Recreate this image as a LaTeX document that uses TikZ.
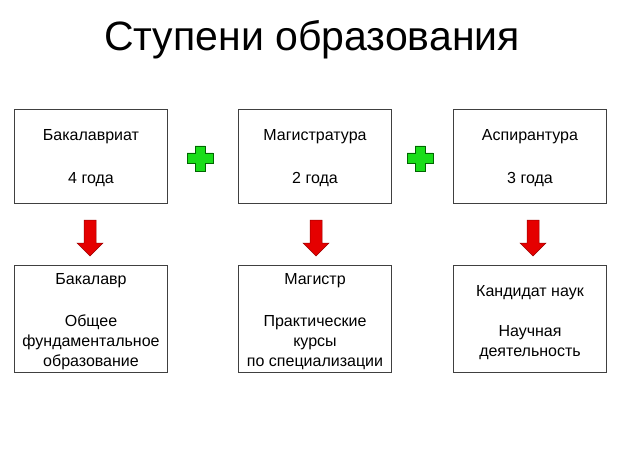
\documentclass[tikz,border=0pt]{standalone}
\usepackage{fontspec}
\setmainfont{Liberation Sans}
\begin{document}
\begin{tikzpicture}[x=1pt,y=-1pt,
  box/.style={draw=black!75,line width=0.8pt,fill=white,minimum width=153pt,anchor=north west,inner sep=0pt},
  txt/.style={anchor=base,font=\fontsize{16}{20}\selectfont,inner sep=0pt},
  plus/.style={fill=green!85!black!90,draw=green!40!black,line width=0.6pt},
  darr/.style={fill=red!90!black,draw=red!60!black,line width=0.5pt}]
\useasboundingbox (0,0) rectangle (634,449);
\node (title) at (312,40) {\fontsize{41}{46}\selectfont Ступени образования};
\node[box,minimum height=94pt] (t1) at (14,109) {};
\node[box,minimum height=94pt] (t2) at (238,109) {};
\node[box,minimum height=94pt] (t3) at (453,109) {};
\node[box,minimum height=107pt] (b1) at (14,265) {};
\node[box,minimum height=107pt] (b2) at (238,265) {};
\node[box,minimum height=107pt] (b3) at (453,265) {};
\node[txt] (t1a) at (91,141) {Бакалавриат};
\node[txt] (t1b) at (91,183) {4 года};
\node[txt] (t2a) at (315,141) {Магистратура};
\node[txt] (t2b) at (315,183) {2 года};
\node[txt] (t3a) at (530,141) {Аспирантура};
\node[txt] (t3b) at (530,183) {3 года};
\node[txt] (b1a) at (91,284) {Бакалавр};
\node[txt] (b1b) at (91,326) {Общее};
\node[txt] (b1c) at (91,346) {фундаментальное};
\node[txt] (b1d) at (91,366) {образование};
\node[txt] (b2a) at (315,284) {Магистр};
\node[txt] (b2b) at (315,326) {Практические};
\node[txt] (b2c) at (315,346) {курсы};
\node[txt] (b2d) at (315,366) {по специализации};
\node[txt] (b3a) at (530,296) {Кандидат наук};
\node[txt] (b3b) at (530,336) {Научная};
\node[txt] (b3c) at (530,356) {деятельность};
\foreach \c in {200,420}{
  \draw[plus] (\c-5,146) -- (\c+5,146) -- (\c+5,153) -- (\c+13,153) -- (\c+13,163) -- (\c+5,163) -- (\c+5,171) -- (\c-5,171) -- (\c-5,163) -- (\c-13,163) -- (\c-13,153) -- (\c-5,153) -- cycle;
}
\foreach \c in {90,316,533}{
  \draw[darr] (\c-6,220) -- (\c+6,220) -- (\c+6,243) -- (\c+13,243) -- (\c,256) -- (\c-13,243) -- (\c-6,243) -- cycle;
}
\end{tikzpicture}
\end{document}
